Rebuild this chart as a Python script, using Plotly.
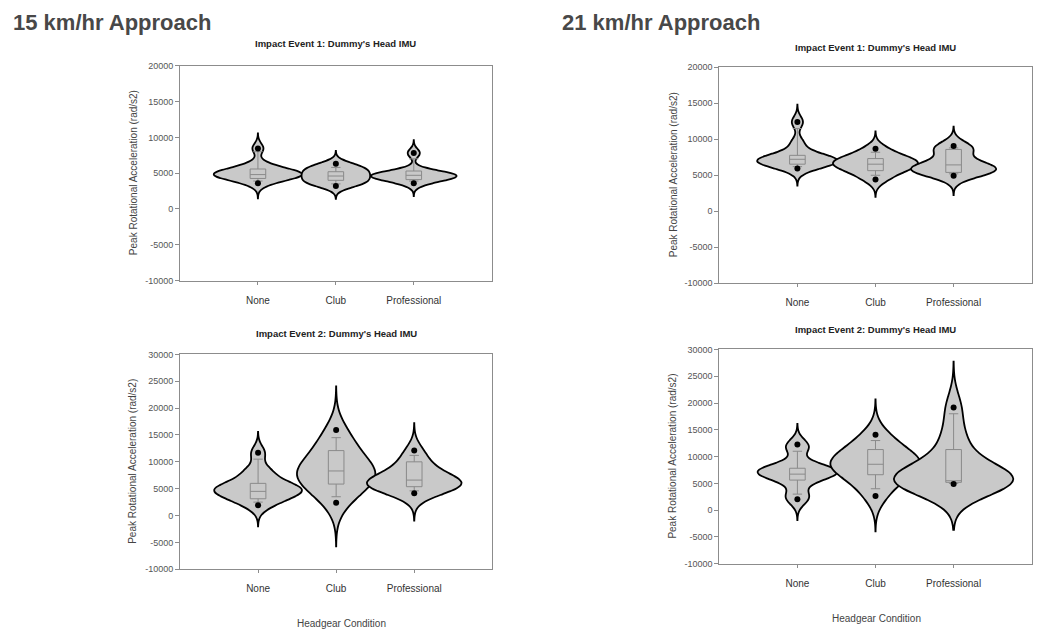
import plotly.graph_objects as go

categories = ["None", "Club", "Professional"]

# Peak rotational acceleration samples (rad/s2) per headgear condition
samples_15_e1 = {
    "None": [3600, 4200, 4400, 4600, 4750, 4850, 4950, 5100, 5300, 5600, 6200, 8460],
    "Club": [3200, 3500, 3800, 4100, 4400, 4700, 5000, 5300, 5600, 5900, 6300],
    "Professional": [3600, 4100, 4300, 4500, 4600, 4700, 4800, 5000, 5300, 7800],
}
samples_21_e1 = {
    "None": [5950, 6400, 6700, 6900, 7000, 7100, 7300, 7600, 8000, 9500, 12400],
    "Club": [4400, 5300, 5800, 6200, 6500, 6800, 7000, 7300, 7800, 8690],
    "Professional": [4950, 5400, 5600, 5800, 5900, 6100, 6400, 7000, 8400, 8800, 9050],
}
samples_15_e2 = {
    "None": [1900, 3000, 3500, 4200, 4600, 4900, 5100, 5400, 6000, 7500, 8500, 11670],
    "Club": [2380, 4500, 5800, 6500, 7300, 8000, 8300, 9000, 10500, 12000, 13500, 15940],
    "Professional": [4150, 5000, 5400, 5700, 5900, 6100, 6400, 6800, 7500, 9000, 10000, 12090],
}
samples_21_e2 = {
    "None": [2020, 2800, 5500, 6300, 6700, 7000, 7300, 7500, 7800, 8200, 11500, 12240],
    "Club": [2630, 5000, 6500, 7500, 8200, 8600, 9000, 9800, 11000, 12000, 14080],
    "Professional": [4890, 5000, 5200, 5300, 5500, 5600, 5800, 6500, 8000, 11000, 14000, 19170],
}

# Kernel bandwidths (rad/s2)
bw_15_e1 = {"None": 700, "Club": 600, "Professional": 600}
bw_21_e1 = {"None": 800, "Club": 800, "Professional": 900}
bw_15_e2 = {"None": 1300, "Club": 2700, "Professional": 1700}
bw_21_e2 = {"None": 1290, "Club": 2200, "Professional": 2860}

# Box statistics: (lower whisker, q1, median, q3, upper whisker)
box_15_e1 = {"None": (3900, 4260, 4800, 5580, 8000),
             "Club": (3500, 4000, 4600, 5200, 5800),
             "Professional": (3900, 4100, 4700, 5300, 7000)}
box_21_e1 = {"None": (6200, 6540, 7220, 7770, 11500),
             "Club": (5000, 5640, 6540, 7320, 8200),
             "Professional": (5200, 5400, 6440, 8590, 8800)}
box_15_e2 = {"None": (2500, 3120, 4500, 5990, 10500),
             "Club": (3500, 5860, 8300, 12090, 14500),
             "Professional": (4600, 5370, 6600, 10000, 11200)}
box_21_e2 = {"None": (3000, 5620, 6730, 7830, 11000),
             "Club": (4000, 6620, 8570, 11320, 13000),
             "Professional": (5000, 5200, 5500, 11320, 18000)}

# Outlying points (5th / 95th percentile markers)
dots_15_e1 = {"None": [3600, 8460], "Club": [3200, 6300], "Professional": [3600, 7800]}
dots_21_e1 = {"None": [5950, 12400], "Club": [4400, 8690], "Professional": [4950, 9050]}
dots_15_e2 = {"None": [1900, 11670], "Club": [2380, 15940], "Professional": [4150, 12090]}
dots_21_e2 = {"None": [2020, 12240], "Club": [2630, 14080], "Professional": [4890, 19170]}

yticks_e1 = [-10000, -5000, 0, 5000, 10000, 15000, 20000]
yticks_e2 = [-10000, -5000, 0, 5000, 10000, 15000, 20000, 25000, 30000]

# Layout / style settings
violin_width = {
    "15_e1": {"None": 1.13, "Club": 0.88, "Professional": 1.10},
    "21_e1": {"None": 1.03, "Club": 1.09, "Professional": 1.09},
    "15_e2": {"None": 1.12, "Club": 1.00, "Professional": 1.21},
    "21_e2": {"None": 1.02, "Club": 1.15, "Professional": 1.53},
}

W, H = 1043, 634
FILL = "#c9c9c9"
FRAME = "#8c8c8c"
FONT = "Liberation Sans, Arial, sans-serif"

panels = [
    dict(key="15_e1", n="", samples=samples_15_e1, bw=bw_15_e1, box=box_15_e1, dots=dots_15_e1,
         ticks=yticks_e1, px=(180, 491.7), py=(61.7, 280), title="Impact Event 1: Dummy's Head IMU",
         title_y=39.5, ylab_x=133),
    dict(key="21_e1", n="2", samples=samples_21_e1, bw=bw_21_e1, box=box_21_e1, dots=dots_21_e1,
         ticks=yticks_e1, px=(719.3, 1031.7), py=(63.3, 282.7), title="Impact Event 1: Dummy's Head IMU",
         title_y=42.7, ylab_x=673),
    dict(key="15_e2", n="3", samples=samples_15_e2, bw=bw_15_e2, box=box_15_e2, dots=dots_15_e2,
         ticks=yticks_e2, px=(180, 492.3), py=(355, 573.3), title="Impact Event 2: Dummy's Head IMU",
         title_y=334, ylab_x=133),
    dict(key="21_e2", n="4", samples=samples_21_e2, bw=bw_21_e2, box=box_21_e2, dots=dots_21_e2,
         ticks=yticks_e2, px=(719.3, 1031.7), py=(350, 567.7), title="Impact Event 2: Dummy's Head IMU",
         title_y=330, ylab_x=673),
]

fig = go.Figure()
annotations = []
layout_axes = {}

for p in panels:
    xa, ya = "x" + p["n"], "y" + p["n"]
    for cat in categories:
        s = p["samples"][cat]
        bw = p["bw"][cat]
        fig.add_trace(go.Violin(
            x=[cat] * len(s), y=s, xaxis=xa, yaxis=ya,
            bandwidth=bw, spanmode="manual", span=[min(s) - 3 * bw, max(s) + 3 * bw],
            width=violin_width[p["key"]][cat], scalemode="width",
            fillcolor=FILL, line=dict(color="black", width=1.8),
            points=False, box_visible=False, meanline_visible=False,
            showlegend=False, hoverinfo="skip",
        ))
    for cat in categories:
        lo, q1, med, q3, hi = p["box"][cat]
        fig.add_trace(go.Box(
            x=[cat], q1=[q1], median=[med], q3=[q3], lowerfence=[lo], upperfence=[hi],
            xaxis=xa, yaxis=ya, width=0.2, whiskerwidth=0.6,
            fillcolor="rgba(0,0,0,0)", line=dict(color="#8a8a8a", width=1),
            boxpoints=False, showlegend=False, hoverinfo="skip",
        ))
    for cat in categories:
        d = p["dots"][cat]
        fig.add_trace(go.Scatter(
            x=[cat] * len(d), y=d, xaxis=xa, yaxis=ya, mode="markers",
            marker=dict(color="black", size=6), showlegend=False, hoverinfo="skip",
        ))

    x0, x1 = p["px"]
    y0, y1 = p["py"]
    axis_common = dict(showline=True, mirror=True, linecolor=FRAME, linewidth=1,
                       showgrid=False, zeroline=False, ticks="outside", tickcolor=FRAME)
    layout_axes["xaxis" + p["n"]] = dict(
        domain=[x0 / W, x1 / W], anchor=ya, type="category",
        categoryorder="array", categoryarray=categories, range=[-1, 3],
        ticklen=3, ticklabelstandoff=7,
        tickfont=dict(size=10, color="#333333", family=FONT), **axis_common)
    layout_axes["yaxis" + p["n"]] = dict(
        domain=[1 - y1 / H, 1 - y0 / H], anchor=xa,
        range=[p["ticks"][0], p["ticks"][-1]],
        tickvals=p["ticks"], ticktext=[str(v) for v in p["ticks"]],
        ticklen=4, tickfont=dict(size=9, color="#555555", family=FONT), **axis_common)

    annotations.append(dict(
        text="<b>" + p["title"] + "</b>", x=(x0 + x1) / 2 / W, y=1 - p["title_y"] / H,
        xref="paper", yref="paper", showarrow=False, xanchor="center", yanchor="middle",
        font=dict(size=9.5, color="#222222", family=FONT)))
    annotations.append(dict(
        text="Peak Rotational Acceleration (rad/s2)", x=p["ylab_x"] / W, y=1 - (y0 + y1) / 2 / H,
        xref="paper", yref="paper", showarrow=False, textangle=-90,
        xanchor="center", yanchor="middle",
        font=dict(size=10, color="#444444", family=FONT)))

for label, xc, yc in [("Headgear Condition", 341.7, 628), ("Headgear Condition", 876.7, 623)]:
    annotations.append(dict(
        text=label, x=xc / W, y=1 - yc / H, xref="paper", yref="paper", showarrow=False,
        xanchor="center", yanchor="middle", font=dict(size=10, color="#444444", family=FONT)))

for label, xl in [("15 km/hr Approach", 11), ("21 km/hr Approach", 560)]:
    annotations.append(dict(
        text="<b>" + label + "</b>", x=xl / W, y=1 - 18 / H, xref="paper", yref="paper",
        showarrow=False, xanchor="left", yanchor="middle",
        font=dict(size=22, color="#484848", family=FONT)))

fig.update_layout(
    width=W, height=H, autosize=False,
    margin=dict(l=0, r=0, t=0, b=0),
    paper_bgcolor="white", plot_bgcolor="white",
    violinmode="overlay", boxmode="overlay", violingap=0, boxgap=0,
    annotations=annotations, font=dict(family=FONT),
    **layout_axes,
)

fig.write_html("out.html")
